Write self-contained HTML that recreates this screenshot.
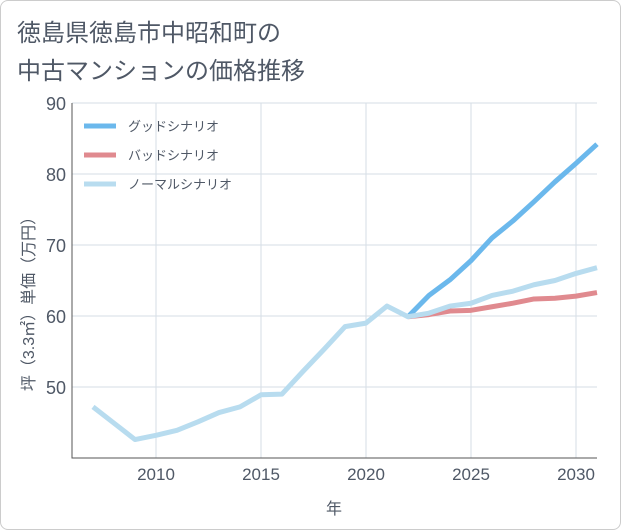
<!DOCTYPE html>
<html><head><meta charset="utf-8"><style>
body{margin:0;background:#fff;font-family:"Liberation Sans","Noto Sans CJK JP",sans-serif}
#wrap{position:relative;width:619px;height:528px;border:1px solid #ccc;border-radius:8px;overflow:hidden}
</style></head><body>
<div id="wrap">
<svg id="c" width="621" height="530" style="position:absolute;left:-1px;top:-1px"></svg>
</div>
<script>
const years=[2007,2008,2009,2010,2011,2012,2013,2014,2015,2016,2017,2018,2019,2020,2021,2022,2023,2024,2025,2026,2027,2028,2029,2030,2031];
const normal=[47.2,44.9,42.6,43.2,43.9,45.1,46.4,47.2,48.9,49.0,52.2,55.3,58.5,59.0,61.4,59.9,60.4,61.4,61.8,62.9,63.5,64.4,65.0,66.0,66.8];
const goodYears=[2022,2023,2024,2025,2026,2027,2028,2029,2030,2031];
const good=[59.9,62.9,65.1,67.8,71.0,73.4,76.1,78.9,81.5,84.2];
const bad=[59.9,60.2,60.7,60.8,61.3,61.8,62.4,62.5,62.8,63.3];
const yTicks=[50,60,70,80,90];
const xTicks=[2010,2015,2020,2025,2030];
const NS="http://www.w3.org/2000/svg";
const svg=document.getElementById('c');
const TXT='#4f5866';
const X=y=>72+(y-2006)*21, Y=v=>458-(v-40)*7.1;
function el(t,a,txt){const e=document.createElementNS(NS,t);for(const k in a)e.setAttribute(k,a[k]);if(txt!=null)e.textContent=txt;svg.appendChild(e);return e;}
const t1=el('text',{x:17,y:41,'font-size':24,fill:TXT},'徳島県徳島市中昭和町の');


const t2=el('text',{x:17,y:79,'font-size':24,fill:TXT},'中古マンションの価格推移');


yTicks.forEach(v=>{
 const l=el('line',{x1:72,x2:597,y1:Y(v),y2:Y(v),stroke:'#d5dde5'});
 
 
 const t=el('text',{x:66,y:Y(v)+7,'font-size':18,fill:TXT,'text-anchor':'end'},v);
 
 
});
xTicks.forEach(v=>{
 const l=el('line',{x1:X(v),x2:X(v),y1:103,y2:458,stroke:'#d5dde5'});
 
 
 const t=el('text',{x:X(v),y:480,'font-size':17,fill:TXT,'text-anchor':'middle'},v);
 
 
});
const ax=el('path',{d:'M72 103V458H597',stroke:'#555',fill:'none','stroke-width':1});


const xt=el('text',{x:334,y:514,'font-size':16,fill:TXT,'text-anchor':'middle'},'年');


const yt=el('text',{x:0,y:0,'font-size':16,fill:TXT,'text-anchor':'middle',transform:'translate(34 300) rotate(-90)'},'坪（3.3㎡）単価（万円）');


function line(xs,vs,c,name){
 const p=el('polyline',{points:xs.map((y,i)=>X(y)+','+Y(vs[i])).join(' '),fill:'none',stroke:c,'stroke-width':5,'stroke-linejoin':'round'});
 
 
}
line(goodYears,good,'#6bb8ec','line-good-scenario');
line(goodYears,bad,'#e08a8f','line-bad-scenario');
line(years,normal,'#b8dcef','line-normal-scenario');
[['グッドシナリオ','#6bb8ec'],['バッドシナリオ','#e08a8f'],['ノーマルシナリオ','#b8dcef']].forEach((d,i)=>{
 const y=126+i*29;
 const l=el('line',{x1:84,x2:116,y1:y,y2:y,stroke:d[1],'stroke-width':5});
 
 
 const t=el('text',{x:128,y:y+5,'font-size':13,fill:TXT},d[0]);
 
 
});
</script>
</body></html>
